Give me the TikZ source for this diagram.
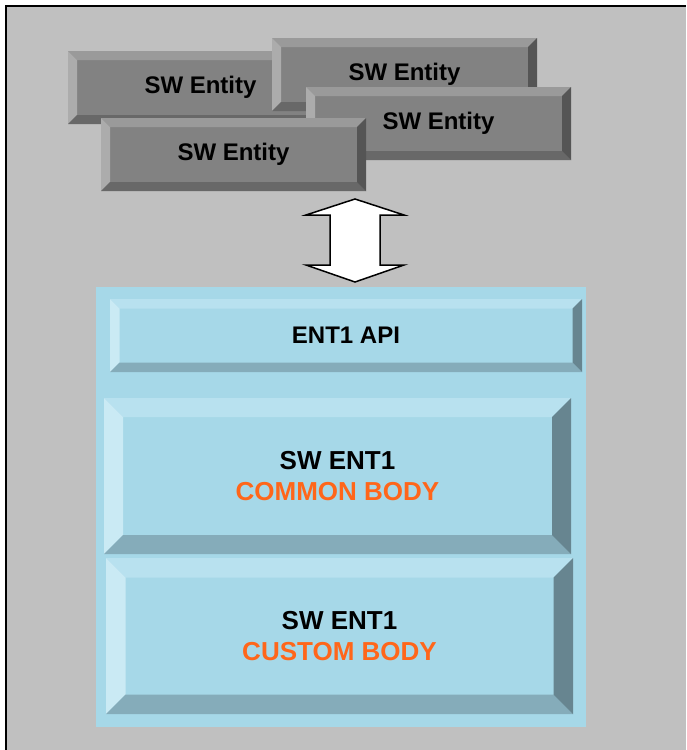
\documentclass[tikz,border=0pt]{standalone}
\usepackage{fontspec}
\setmainfont{Liberation Sans}
\usetikzlibrary{calc}

\definecolor{panel}{HTML}{C0C0C0}
\definecolor{gface}{HTML}{828282}
\definecolor{gtop}{HTML}{9A9A9A}
\definecolor{gleft}{HTML}{ACACAC}
\definecolor{gbottom}{HTML}{686868}
\definecolor{gright}{HTML}{555555}
\definecolor{bface}{HTML}{A6D8E8}
\definecolor{btop}{HTML}{B8E1EF}
\definecolor{bleft}{HTML}{CAEAF4}
\definecolor{bbottom}{HTML}{85ACBA}
\definecolor{bright}{HTML}{678590}
\definecolor{accent}{HTML}{FF661A}

\tikzset{
  % rectangle with four shaded bevel faces: face, top, left, bottom, right, bevel width
  bevelbox/.style n args={6}{
    rectangle, inner sep=0pt, outer sep=0pt, fill=#1, align=center,
    font=\bfseries\fontsize{24}{28}\selectfont,
    path picture={
      \coordinate (pNW) at (path picture bounding box.north west);
      \coordinate (pNE) at (path picture bounding box.north east);
      \coordinate (pSE) at (path picture bounding box.south east);
      \coordinate (pSW) at (path picture bounding box.south west);
      \fill[#2] (pNW) -- (pNE) -- ([shift={(-#6,#6)}]pNE) -- ([shift={(#6,#6)}]pNW) -- cycle;
      \fill[#3] (pNW) -- ([shift={(#6,#6)}]pNW) -- ([shift={(#6,-#6)}]pSW) -- (pSW) -- cycle;
      \fill[#4] (pSW) -- ([shift={(#6,-#6)}]pSW) -- ([shift={(-#6,-#6)}]pSE) -- (pSE) -- cycle;
      \fill[#5] (pNE) -- (pSE) -- ([shift={(-#6,-#6)}]pSE) -- ([shift={(-#6,#6)}]pNE) -- cycle;
    }},
  entity/.style={bevelbox={gface}{gtop}{gleft}{gbottom}{gright}{9},
    minimum width=265pt, minimum height=73pt},
  layer/.style={bevelbox={bface}{btop}{bleft}{bbottom}{bright}{#1}},
  bodytext/.style={font=\bfseries\fontsize{26}{31}\selectfont},
}

\begin{document}
\begin{tikzpicture}[x=1pt,y=-1pt]
\useasboundingbox (0,0) rectangle (686,750);

% grey panel with its frame on the left and top
\fill[panel] (6,6) rectangle (686,750);
\draw[line width=1.6pt] (6,750) -- (6,6) -- (686,6);

% stack of software entities
\node[entity] (entA) at (200.5,87.5)  {SW Entity};
\node[entity] (entB) at (404.5,74.5)  {SW Entity};
\node[entity] (entC) at (438.5,123.5) {SW Entity};
\node[entity] (entD) at (233.5,154.5) {SW Entity};

% ENT1 block
\node[rectangle, fill=bface, minimum width=490pt, minimum height=440pt,
      inner sep=0pt] (ent1) at (341,507) {};
\node[layer=9.5, minimum width=472pt, minimum height=73pt] (api) at (346,335.5) {ENT1 API};
\node[layer=19, minimum width=467pt, minimum height=156pt, bodytext] (common) at (337.5,476)
  {SW ENT1\\\textcolor{accent}{COMMON BODY}};
\node[layer=19.5, minimum width=467pt, minimum height=156pt, bodytext] (custom) at (339.5,636)
  {SW ENT1\\\textcolor{accent}{CUSTOM BODY}};

% two-way block arrow between the entities and the API
\coordinate (up) at (355,199);
\coordinate (dn) at (355,282);
\draw[line width=1.5pt, fill=white, line join=miter]
  (up) -- ++(49,16) -- ++(-24,0) -- ++(0,50) -- ++(24,0) -- (dn)
  -- ++(-49,-17) -- ++(24,0) -- ++(0,-50) -- ++(-24,0) -- cycle;
\end{tikzpicture}
\end{document}
